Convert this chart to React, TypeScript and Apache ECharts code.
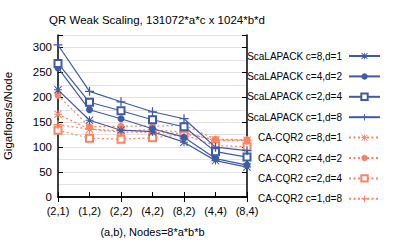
import React, { useEffect, useRef } from "react";
import * as echarts from "echarts";

const categories = ["(2,1)", "(1,2)", "(2,2)", "(4,2)", "(8,2)", "(4,4)", "(8,4)"];

const scaC8D1 = [215, 154, 134, 131, 110, 73, 60];
const scaC4D2 = [259, 175, 157, 137, 120, 77, 64];
const scaC2D4 = [268, 190, 173, 155, 141, 91, 80];
const scaC1D8 = [305, 212, 191, 171, 157, 100, 93];

const cqrC8D1 = [166, 136, 130, 130, 127, 115, 114];
const cqrC4D2 = [204, 141, 142, 142, 144, 116, 115];
const cqrC2D4 = [134, 118, 116, 119, 125, 103, 101];
const cqrC1D8 = [145, 136, 133, 135, 130, 113, 113];

const seriesNames = [
  "ScaLAPACK c=8,d=1",
  "ScaLAPACK c=4,d=2",
  "ScaLAPACK c=2,d=4",
  "ScaLAPACK c=1,d=8",
  "CA-CQR2 c=8,d=1",
  "CA-CQR2 c=4,d=2",
  "CA-CQR2 c=2,d=4",
  "CA-CQR2 c=1,d=8",
];
const seriesValues = [scaC8D1, scaC4D2, scaC2D4, scaC1D8, cqrC8D1, cqrC4D2, cqrC2D4, cqrC1D8];

const BLUE = "#3d5ba6";
const ORANGE = "#fa8360";
const FONT = "'Liberation Sans', Arial, sans-serif";

const PLUS = "path://M4.3,0h1.4v4.3h4.3v1.4h-4.3v4.3h-1.4v-4.3h-4.3v-1.4h4.3z";
const ASTER =
  "path://M4.35,0h1.3v4.35h4.35v1.3h-4.35v4.35h-1.3v-4.35h-4.35v-1.3h4.35z M0.9,0L10,9.1L9.1,10L0,0.9z M9.1,0L10,0.9L0.9,10L0,9.1z";

const symbols = [ASTER, "circle", "emptyRect", PLUS];
const symbolSizes = [8, 7, 7, 9];

export default function App() {
  const ref = useRef<HTMLDivElement>(null);
  useEffect(() => {
    document.body.style.margin = "0";
    const chart = echarts.init(ref.current!, null, { renderer: "svg" });
    const series = seriesValues.map((vals, i) => {
      const isBlue = i < 4;
      const k = i % 4;
      const color = isBlue ? BLUE : ORANGE;
      return {
        name: seriesNames[i],
        type: "line",
        data: vals,
        symbol: symbols[k],
        symbolSize: symbolSizes[k],
        showAllSymbol: true,
        lineStyle: { color, width: 1.2, type: isBlue ? "solid" : [2, 2.5] },
        itemStyle: { color, borderColor: color, borderWidth: k === 2 ? 1.2 : 0 },
        z: isBlue ? 3 : 2,
      };
    });
    const axisLine = { show: true, lineStyle: { color: "#000", width: 1.5 } };
    chart.setOption({
      animation: false,
      backgroundColor: "#fff",
      title: {
        text: "QR Weak Scaling, 131072*a*c x 1024*b*d",
        left: 152,
        textAlign: "center",
        top: 9,
        textStyle: { fontFamily: FONT, fontSize: 11.5, fontWeight: "normal", color: "#000" },
      },
      legend: {
        orient: "vertical",
        right: 13,
        top: 46,
        align: "right",
        itemWidth: 31,
        itemHeight: 8,
        itemGap: 10.4,
        textStyle: { fontFamily: FONT, fontSize: 10, color: "#000", padding: [0, 2, 0, 0] },
        data: seriesNames,
      },
      grid: { left: 58, right: 152, top: 35, bottom: 39 },
      xAxis: [
        {
          type: "category",
          data: categories,
          boundaryGap: false,
          axisLine,
          axisTick: { show: true, inside: true, length: 5, lineStyle: { color: "#000" } },
          axisLabel: { fontFamily: FONT, fontSize: 11, color: "#000", margin: 8 },
          name: "(a,b), Nodes=8*a*b*b",
          nameLocation: "middle",
          nameGap: 29,
          nameTextStyle: { fontFamily: FONT, fontSize: 11, color: "#000" },
        },
        {
          type: "category",
          data: categories,
          boundaryGap: false,
          position: "top",
          axisLine,
          axisTick: { show: true, inside: true, length: 5, lineStyle: { color: "#000" } },
          axisLabel: { show: false },
        },
      ],
      yAxis: [
        {
          type: "value",
          min: 0,
          max: 325,
          interval: 50,
          axisLine,
          axisTick: { show: true, inside: true, length: 5, lineStyle: { color: "#000" } },
          axisLabel: {
            fontFamily: FONT,
            fontSize: 11.5,
            color: "#000",
            margin: 6,
            formatter: (v: number) => (v % 50 === 0 ? String(v) : ""),
          },
          splitLine: { show: true, lineStyle: { color: "#e2e2e2", width: 1 } },
          minorTick: { show: false, splitNumber: 2 },
          minorSplitLine: { show: true, lineStyle: { color: "#e2e2e2", width: 1 } },
          name: "Gigaflops/s/Node",
          nameLocation: "middle",
          nameGap: 44,
          nameTextStyle: { fontFamily: FONT, fontSize: 11.5, color: "#000" },
        },
        {
          type: "value",
          min: 0,
          max: 325,
          interval: 50,
          position: "right",
          axisLine,
          axisTick: { show: true, inside: true, length: 5, lineStyle: { color: "#000" } },
          axisLabel: { show: false },
          splitLine: { show: false },
        },
      ],
      series,
    });
    return () => chart.dispose();
  }, []);
  return (
    <div
      ref={ref}
      style={{ position: "fixed", left: 0, top: 0, width: 399, height: 242 }}
    />
  );
}
